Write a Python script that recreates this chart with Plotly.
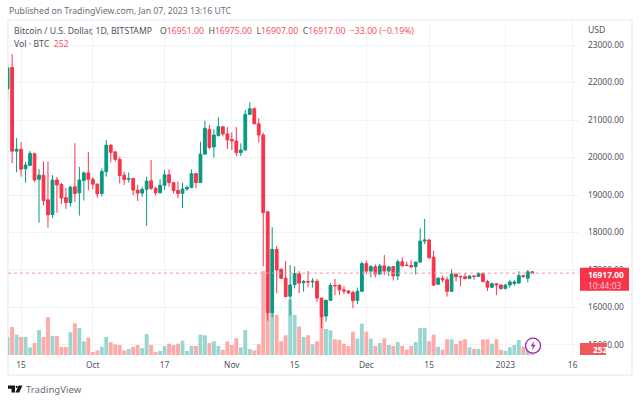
import pandas as pd
import plotly.graph_objects as go

dates = pd.date_range("2022-09-12", periods=118)

opens_sep = [21830,22400,20170,20220,19700,19790,20100,19420,19530,18870,18480,19400,19280,18930,18800,19220,19060,19390,19590]
closes_sep = [22390,20170,20220,19690,19800,20110,19400,19530,18850,18470,19400,19270,18920,18800,19210,19040,19400,19590,19420]
highs_sep = [22490,22760,20520,20410,19880,20170,20130,19690,19890,19890,19530,19480,19320,19190,19250,20380,19750,19630,20150]
lows_sep = [21560,19850,19610,19490,19330,19770,19350,18260,18720,18130,18390,18530,18760,18630,18690,18820,18450,18850,19130]

opens_oct = [19420,19290,19040,19620,20330,20150,19950,19530,19420,19440,19130,19050,19150,19380,19180,19060,19260,19540,19330,19120,19040,19160,19200,19570,19330,20090,20750,20280,20590,20820,20630]
closes_oct = [19290,19030,19630,20330,20140,19950,19520,19410,19440,19130,19050,19150,19370,19180,19060,19260,19540,19330,19120,19040,19160,19200,19570,19330,20090,20780,20270,20600,20820,20630,20470]
highs_oct = [19480,19310,19710,20470,20350,20170,20020,19620,19600,19460,19270,19220,19490,19930,19220,19420,19670,19690,19350,19360,19330,19250,19680,19580,20420,20980,20870,20750,21070,20830,20810]
lows_oct = [19150,18930,18960,19490,19870,19890,19310,19270,19330,19000,18840,18950,18180,19130,18990,19040,19130,19220,19040,18910,18650,19110,19180,19180,19320,20080,20220,20000,20560,20560,20230]

opens_nov = [20480,20440,20130,20200,21150,21300,20900,20600,18550,15870,17550,17020,16780,16300,16610,16900,16660,16690,16680,16700,16250,15770,16190,16590,16590,16470,16440,16400,16190,16430]
closes_nov = [20440,20130,20200,21150,21300,20900,20600,18530,15860,17550,17000,16780,16290,16600,16900,16650,16690,16680,16700,16250,15750,16190,16590,16580,16470,16440,16390,16180,16430,17170]
highs_nov = [20670,20810,20380,21270,21470,21340,21050,20660,18570,18140,17640,17040,17240,17130,17090,16970,16730,16970,16780,16760,16260,16210,16650,16760,16620,16570,16470,16450,16530,17220]
lows_nov = [20200,20040,20040,20190,21130,20880,20400,17100,15650,15740,16380,16770,16280,15790,16510,16380,16420,16540,16530,16150,15450,15620,16180,16330,16330,16350,16360,15990,16090,16420]

opens_dec = [17170,16970,17090,16890,17110,16970,17090,16840,17220,17130,17120,17090,17210,17770,17800,17340,16620,16780,16740,16430,16890,16830,16820,16770,16840,16830,16910,16690,16540,16630,16600]
closes_dec = [16970,17090,16890,17110,16970,17080,16840,17220,17110,17120,17080,17210,17770,17800,17330,16600,16780,16740,16430,16890,16820,16820,16770,16840,16830,16910,16690,16540,16630,16600,16500]
highs_dec = [17250,17130,17150,17160,17400,17110,17100,17280,17340,17220,17250,17220,18110,18360,17830,17510,16810,16850,16820,17020,16900,16850,16910,16860,16860,16940,16930,16740,16670,16650,16620]
lows_dec = [16890,16800,16800,16880,16870,16840,16720,16730,17090,17100,17060,16880,17200,17690,17290,16570,16600,16670,16290,16420,16700,16570,16750,16760,16740,16820,16680,16440,16520,16330,16490]

opens_jan = [16510,16600,16640,16650,16850,16780,16951]
closes_jan = [16600,16680,16680,16850,16830,16950,16917]
highs_jan = [16620,16730,16730,16970,16870,17000,16975]
lows_jan = [16480,16530,16580,16640,16790,16670,16907]

volumes = [770,1176,854,756,756,322,504,1050,756,1582,798,798,336,336,952,1330,1134,574,728,
           126,196,350,756,532,448,420,196,252,350,420,294,882,420,126,168,378,476,420,476,602,168,378,378,854,826,504,574,378,224,574,
           420,700,322,1050,252,196,448,3528,1778,1820,1680,574,826,2324,1680,1204,756,826,448,574,1610,1092,1036,658,630,476,378,980,686,1316,
           980,686,378,504,700,420,378,546,378,224,378,546,1134,1134,574,854,350,224,658,658,462,602,658,322,252,252,658,658,476,658,224,
           168,322,420,630,350,210,252]

opens = opens_sep + opens_oct + opens_nov + opens_dec + opens_jan
highs = highs_sep + highs_oct + highs_nov + highs_dec + highs_jan
lows = lows_sep + lows_oct + lows_nov + lows_dec + lows_jan
closes = closes_sep + closes_oct + closes_nov + closes_dec + closes_jan

price_ticks = [15000, 16000, 17000, 18000, 19000, 20000, 21000, 22000, 23000]
x_tick_dates = ["2022-09-15", "2022-10-01", "2022-10-17", "2022-11-01", "2022-11-15",
                "2022-12-01", "2022-12-15", "2023-01-01", "2023-01-16"]
x_tick_text = ["15", "Oct", "17", "Nov", "15", "Dec", "15", "2023", "16"]
last_close = 16917

UP = "#089981"
DOWN = "#F7344A"
UP_VOL = "#98D6CF"
DOWN_VOL = "#FFA9A9"
GRID = "#F2F3F6"
TXT = "#50535E"
FONT = "Noto Sans"

# plot rectangle in window pixels
L, R, T, B = 8, 579, 20, 355
W, H = 640, 402
def px(x): return (x - L) / (R - L)
def py(y): return (B - y) / (B - T)

fig = go.Figure()
fig.add_bar(x=dates, y=volumes, yaxis="y2",
            marker=dict(color=[UP_VOL if c >= o else DOWN_VOL for o, c in zip(opens, closes)], line_width=0),
            hoverinfo="skip", showlegend=False)
fig.add_candlestick(x=dates, open=opens, high=highs, low=lows, close=closes, yaxis="y",
                    increasing=dict(line=dict(color=UP, width=1), fillcolor=UP),
                    decreasing=dict(line=dict(color=DOWN, width=1), fillcolor=DOWN),
                    whiskerwidth=0, showlegend=False, hoverinfo="skip")

shapes = [
    # outer frame
    dict(type="rect", xref="paper", yref="paper", x0=px(8), x1=px(632), y0=py(375), y1=py(20),
         line=dict(color="#EEF0F3", width=1.5), fillcolor="rgba(0,0,0,0)", layer="below"),
    # last price dotted line
    dict(type="line", xref="paper", yref="y", x0=0, x1=1, y0=last_close, y1=last_close,
         line=dict(color="#F59AA3", width=1, dash="dot"), layer="above"),
    # last price label
    dict(type="rect", xref="paper", yref="paper", x0=px(580), x1=px(629), y0=py(290.7), y1=py(267.7),
         line_width=0, fillcolor="#F7344A", layer="above"),
    # volume label
    dict(type="rect", xref="paper", yref="paper", x0=px(580), x1=px(606), y0=py(355), y1=py(343),
         line_width=0, fillcolor="#F0565A", layer="above"),
    # purple badge
    dict(type="circle", xref="paper", yref="paper", x0=px(525.5), x1=px(540.5), y0=py(353.2), y1=py(338.2),
         line=dict(color="#9C27B0", width=1.3), fillcolor="white", layer="above"),
]
# bolt in the badge
bolt = [(534.5, 340.8), (530.6, 346.3), (533, 346.3), (531.6, 350.8), (535.6, 344.8), (533.2, 344.8)]
shapes.append(dict(type="path", xref="paper", yref="paper",
                   path="M " + " L ".join(f"{px(a):.5f},{py(b):.5f}" for a, b in bolt) + " Z",
                   line_width=0, fillcolor="#9C27B0", layer="above"))
# TradingView mark
mark = [
    [(8, 385.5), (15, 385.5), (15, 392.5), (11.5, 392.5), (11.5, 388.8), (8, 388.8)],
    [(18.6, 385.5), (22.5, 385.5), (19.2, 392.5), (15.5, 392.5)],
]
for poly in mark:
    shapes.append(dict(type="path", xref="paper", yref="paper",
                       path="M " + " L ".join(f"{px(a):.5f},{py(b):.5f}" for a, b in poly) + " Z",
                       line_width=0, fillcolor="#131722", layer="above"))
dot = dict(type="circle", xref="paper", yref="paper", x0=px(15.6), x1=px(17.8), y0=py(388), y1=py(385.8),
           line_width=0, fillcolor="#131722", layer="above")
shapes.append(dot)

def text(x, y, s, size=8.7, color=TXT, anchor="left"):
    return dict(xref="paper", yref="paper", x=px(x), y=py(y), text=s, showarrow=False,
                xanchor=anchor, yanchor="middle", align=anchor, borderpad=0,
                font=dict(family=FONT, size=size, color=color))

red = "#F7525F"
def v(s): return f"<span style='color:{red}'>{s}</span>"
annotations = [
    text(8, 11, "Published on TradingView.com, Jan 07, 2023 13:16 UTC", color="#6A6D78"),
    text(13, 31, "Bitcoin / U.S. Dollar, 1D, BITSTAMP"),
    text(159, 31, "O" + v("16951.00") + "  H" + v("16975.00") + "  L" + v("16907.00") + "  C" + v("16917.00")
         + "  " + v("−33.00 (−0.19%)")),
    text(13, 44, "Vol · BTC  " + v("252")),
    text(587, 30, "USD"),
    text(587, 274, "<b>16917.00</b>", size=8.4, color="white"),
    text(587, 285, "10:44:03", size=8.4, color="#FFC9CE"),
    text(592, 349.5, "<b>252</b>", size=8.4, color="white"),
    text(25, 389, "TradingView", size=9.6, color="#6A6D78"),
]

fig.update_layout(
    width=W, height=H, autosize=False,
    margin=dict(l=L, r=W - R, t=T, b=H - B, pad=0),
    paper_bgcolor="white", plot_bgcolor="white",
    bargap=0.14, boxgap=0.12,
    font=dict(family=FONT, size=8.4, color=TXT),
    showlegend=False, hovermode=False,
    xaxis=dict(type="date", range=["2022-09-12 02:00", "2023-01-17 10:00"],
               tickmode="array", tickvals=x_tick_dates, ticktext=x_tick_text,
               showgrid=True, gridcolor=GRID, gridwidth=1, zeroline=False,
               showline=False, ticks="", ticklabelstandoff=4,
               tickfont=dict(family=FONT, size=8.4, color=TXT),
               rangeslider=dict(visible=False)),
    yaxis2=dict(domain=[0, 1], range=[0, 14070], visible=False, side="left", fixedrange=True),
    yaxis=dict(domain=[0, 1], overlaying="y2", side="right", range=[14733, 23667],
               tickmode="array", tickvals=price_ticks, tickformat=".2f",
               showgrid=True, gridcolor=GRID, gridwidth=1, zeroline=False,
               showline=False, ticks="", ticklabelstandoff=8,
               tickfont=dict(family=FONT, size=8.4, color=TXT)),
    shapes=shapes, annotations=annotations,
)

fig.write_html("out.html", config=dict(displayModeBar=False),
               post_script="document.body.style.margin='0';document.documentElement.style.overflow='hidden';")
